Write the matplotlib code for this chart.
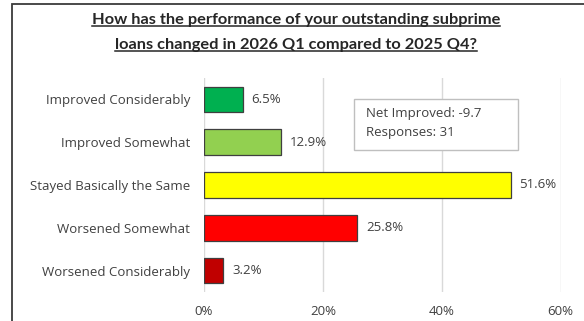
import matplotlib
matplotlib.use("Agg")
import matplotlib.pyplot as plt
from matplotlib.lines import Line2D
from matplotlib.patches import Rectangle

# survey answers, top to bottom
categories = [
    "Improved Considerably",
    "Improved Somewhat",
    "Stayed Basically the Same",
    "Worsened Somewhat",
    "Worsened Considerably",
]
shares = [6.5, 12.9, 51.6, 25.8, 3.2]
bar_colors = ["#00B050", "#92D050", "#FFFF00", "#FF0000", "#C00000"]
x_ticks = [0, 20, 40, 60]
net_improved = -9.7
responses = 31
title_lines = [
    "How has the performance of your outstanding subprime",
    "loans changed in 2026 Q1 compared to 2025 Q4?",
]

text_col = "#404040"
body_font = "Open Sans"
body_size = 9.5

fig = plt.figure(figsize=(5.84, 3.21), dpi=100)
W, H = 584, 321

# outer frame: only its left and top edges fall inside the image
frame = Rectangle((12 / W, -0.2), 1.2, 1.2 - 4 / H, transform=fig.transFigure,
                  fill=False, edgecolor="#3a3a3a", linewidth=1.3, clip_on=False)
fig.patches.append(frame)

ax = fig.add_axes([204 / W, 29 / H, 356.5 / W, 214 / H])
ypos = list(range(len(categories)))
bars = ax.barh(ypos, shares, height=0.6, color=bar_colors,
               edgecolor="#3f3f3f", linewidth=0.9, zorder=3)

for rect, v in zip(bars, shares):
    ax.annotate(f"{v:.1f}%", (rect.get_width(), rect.get_y() + rect.get_height() / 2),
                xytext=(6.5, 0), textcoords="offset points", va="center", ha="left",
                fontsize=body_size, color=text_col, family=body_font)

ax.set_xlim(0, 60)
ax.set_ylim(len(categories) - 0.5, -0.5)
ax.set_xticks(x_ticks)
ax.set_xticklabels([f"{t}%" for t in x_ticks])
ax.set_yticks(ypos)
ax.set_yticklabels(categories)
ax.tick_params(axis="both", length=0, labelsize=body_size, labelcolor=text_col)
ax.tick_params(axis="x", pad=9.5)
ax.tick_params(axis="y", pad=10)
for lab in ax.get_xticklabels() + ax.get_yticklabels():
    lab.set_family(body_font)
ax.grid(axis="x", color="#D9D9D9", linewidth=1, zorder=0)
for s in ax.spines.values():
    s.set_visible(False)

# summary box
box = Rectangle((354 / W, 1 - 150 / H), 164 / W, 51 / H, transform=fig.transFigure,
                facecolor="white", edgecolor="#BFBFBF", linewidth=1, zorder=5)
fig.patches.append(box)
fig.text(366 / W, 1 - 114 / H, f"Net Improved: {net_improved}", fontsize=body_size,
         color=text_col, family=body_font, va="center", ha="left", zorder=6)
fig.text(366 / W, 1 - 133 / H, f"Responses: {responses}", fontsize=body_size,
         color=text_col, family=body_font, va="center", ha="left", zorder=6)

# underlined two-line title
title_objs = []
for i, line in enumerate(title_lines):
    t = fig.text(296 / W, 1 - (24 + 25 * i) / H, line, fontsize=11.8, fontweight="bold",
                 family="Lato", color="#262626", ha="center", va="baseline")
    title_objs.append(t)

fig.canvas.draw()
r = fig.canvas.get_renderer()
for t in title_objs:
    bb = t.get_window_extent(r)
    base = t.get_position()[1] * H - 2
    fig.add_artist(Line2D([bb.x0 / W, bb.x1 / W], [base / H, base / H],
                          transform=fig.transFigure, color="#262626", linewidth=1.1))

fig.savefig("out.png", dpi=100)
